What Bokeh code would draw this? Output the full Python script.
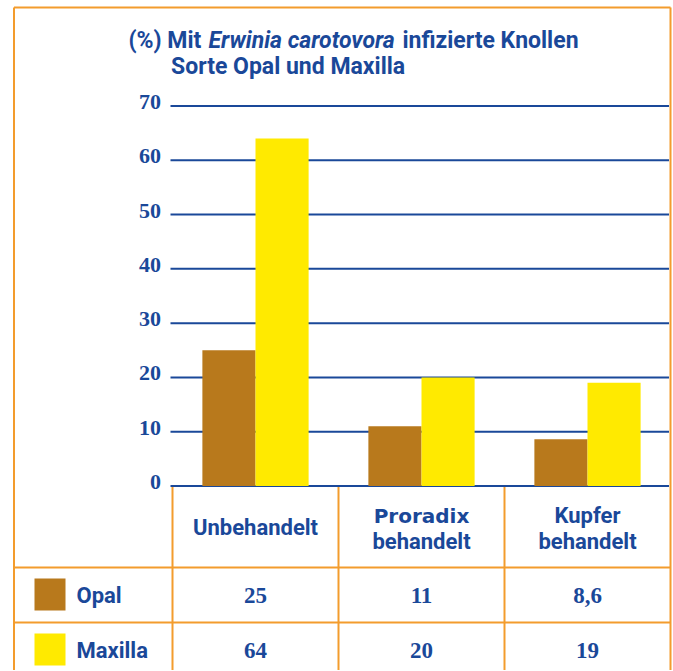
from bokeh.plotting import figure
from bokeh.models import Range1d, ColumnDataSource
from bokeh.core.properties import value
from bokeh.embed import file_html
from bokeh.resources import INLINE

# ---------------- data ----------------
categories = ["Unbehandelt", "Proradix behandelt", "Kupfer behandelt"]
series_names = ["Opal", "Maxilla"]
opal = [25, 11, 8.6]
maxilla = [64, 20, 19]
opal_text = ["25", "11", "8,6"]
maxilla_text = ["64", "20", "19"]
y_ticks = [0, 10, 20, 30, 40, 50, 60, 70]
title_parts = ["(%) Mit", "Erwinia carotovora", "infizierte Knollen"]
subtitle = "Sorte Opal und Maxilla"

# ---------------- style ----------------
BLUE = "#1a4899"
ORANGE = "#f39c2d"
BROWN = "#b8791c"
YELLOW = "#ffea00"
SANS = "Roboto"
SERIF = "Liberation Serif"
HEAVY = "DejaVu Sans"

W, H = 672, 670

# layout geometry (canvas pixels)
COL_L, COL_R = 172, 670          # category columns
COLW = (COL_R - COL_L) / 3.0
Y0_PX, Y70_PX = 485.5, 105.5     # value 0 and value 70
PPU = (Y0_PX - Y70_PX) / 70.0


def u(px):
    """canvas x pixel -> category-index units"""
    return (px - COL_L) / COLW - 0.5


def ydata(py):
    """canvas y pixel -> value units"""
    return (Y0_PX - py) / PPU


p = figure(width=W, height=H, x_range=Range1d(u(0), u(W)), y_range=Range1d(ydata(H), ydata(0)),
           x_axis_location=None, y_axis_location=None, toolbar_location=None,
           output_backend="svg", min_border=0)
p.outline_line_color = None
p.xgrid.visible = False
p.ygrid.visible = False
p.background_fill_color = "white"
p.border_fill_color = "white"

ncat = len(categories)
idx = list(range(ncat))

# ---- horizontal value lines (grid) ----
p.segment(x0=[u(170)] * len(y_ticks), x1=[u(668.5)] * len(y_ticks), y0=y_ticks, y1=y_ticks,
          line_color=BLUE, line_width=2)
# y tick labels
p.text(x=[u(160.5)] * len(y_ticks), y=[v + 4.0 / PPU for v in y_ticks], text=[str(v) for v in y_ticks],
       text_font=value(SERIF), text_font_style="bold", text_font_size="22px", text_color=BLUE,
       text_align="right", text_baseline="alphabetic")

# ---- bars ----
src = ColumnDataSource(dict(
    x_opal=[i - 0.16 for i in idx], x_max=[i + 0.16 for i in idx], opal=opal, maxilla=maxilla))
p.vbar(x="x_opal", top="opal", bottom=0, width=0.32, source=src, fill_color=BROWN, line_color=None)
p.vbar(x="x_max", top="maxilla", bottom=0, width=0.32, source=src, fill_color=YELLOW, line_color=None)

# ---- title ----
title_x = [128, 208, 402]
title_style = ["bold", "bold italic", "bold"]
for t, tx, ts in zip(title_parts, title_x, title_style):
    p.text(x=[u(tx)], y=[ydata(40)], text=[t], text_font=value(SANS), text_font_style=ts,
           text_font_size="23px", text_color=BLUE, text_align="left", text_baseline="alphabetic")
p.text(x=[u(170.5)], y=[ydata(66)], text=[subtitle], text_font=value(SANS), text_font_style="bold",
       text_font_size="23px", text_color=BLUE, text_align="left", text_baseline="alphabetic")

# ---- orange frame and table lines ----
LEFT_B, RIGHT_B, TOP_B = 13.5, 670, 7
ly_top, ly_bot = ydata(TOP_B), ydata(H + 5)
# outer frame: left, right, top
p.segment(x0=[u(LEFT_B), u(RIGHT_B)], x1=[u(LEFT_B), u(RIGHT_B)], y0=[ly_top] * 2, y1=[ly_bot] * 2,
          line_color=ORANGE, line_width=2)
p.segment(x0=[u(LEFT_B)], x1=[u(RIGHT_B)], y0=[ly_top], y1=[ly_top], line_color=ORANGE, line_width=2)
# table vertical lines (category boundaries)
vx = [i - 0.5 for i in idx]
p.segment(x0=vx, x1=vx, y0=[ydata(486.5)] * len(vx), y1=[ly_bot] * len(vx),
          line_color=ORANGE, line_width=2)
# table horizontal lines
hy = [ydata(567), ydata(622)]
p.segment(x0=[u(LEFT_B)] * 2, x1=[u(RIGHT_B)] * 2, y0=hy, y1=hy, line_color=ORANGE, line_width=2)

# ---- table header ----
for i, cat in enumerate(categories):
    parts = cat.split(" ", 1)
    if len(parts) == 1:
        p.text(x=[i], y=[ydata(527)], text=[parts[0]], text_font=value(SANS), text_font_style="bold",
               text_font_size="22px", text_color=BLUE, text_align="center", text_baseline="middle")
    else:
        heavy = parts[0] == "Proradix"
        p.text(x=[i], y=[ydata(515)], text=[parts[0]], text_font=value(HEAVY if heavy else SANS),
               text_font_style="bold", text_font_size="20px" if heavy else "22px",
               text_color=BLUE, text_align="center", text_baseline="middle")
        p.text(x=[i], y=[ydata(541)], text=[parts[1]], text_font=value(SANS), text_font_style="bold",
               text_font_size="22px", text_color=BLUE, text_align="center", text_baseline="middle")

# ---- table rows ----
row_y = [ydata(595), ydata(650)]
p.quad(left=[u(34)] * 2, right=[u(65)] * 2, top=[ydata(578), ydata(633)],
       bottom=[ydata(610), ydata(665)], fill_color=[BROWN, YELLOW], line_color=None)
p.text(x=[u(76)] * 2, y=row_y, text=series_names, text_font=value(SANS), text_font_style="bold",
       text_font_size="22px", text_color=BLUE, text_align="left", text_baseline="middle")
p.text(x=idx * 2, y=[row_y[0]] * ncat + [row_y[1]] * ncat, text=opal_text + maxilla_text,
       text_font=value(SERIF), text_font_style="bold", text_font_size="23px", text_color=BLUE,
       text_align="center", text_baseline="middle")

open("out.html", "w").write(file_html(p, INLINE))
